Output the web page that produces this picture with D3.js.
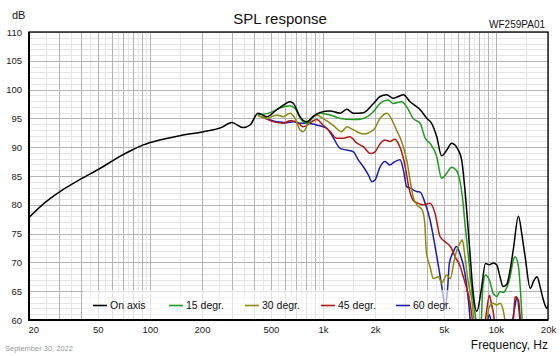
<!DOCTYPE html>
<html><head><meta charset="utf-8">
<script src="https://cdn.jsdelivr.net/npm/d3@7"></script>
<style>
html,body{margin:0;padding:0;background:#fff;}
svg{display:block;font-family:"Liberation Sans",Arial,sans-serif;}
</style></head>
<body><svg id="c" width="560" height="356"></svg>
<script>
// ---- data (frequency Hz, SPL dB) ----
const seriesNames = ["On axis","15 degr.","30 degr.","45 degr.","60 degr."];
const seriesColors = ["#000000","#1f9a1f","#8a8a10","#b01818","#1c1ca8"];
const onAxis = [[20,77.8],[25,80.5],[30.2,82.3],[40,84.5],[51.4,86.3],[67,88.4],[80,89.6],[91.6,90.4],[114,91.25],[149,92.0],[204,92.7],[260,93.45],[297,94.3],[346,93.4],[379,93.85],[422,95.9],[474,95.3],[541,96.5],[590,97.3],[646,97.9],[676,97.6],[737,95.3],[805,94.4],[882,95.4],[966,96.05],[1100,96.3],[1257,95.9],[1375,96.6],[1500,95.9],[1712,96.0],[1960,97.6],[2140,98.8],[2336,99.1],[2550,98.5],[2920,99.1],[3190,97.9],[3650,96.5],[3990,95.0],[4250,94.15],[4550,91.8],[4854,88.5],[5200,89.5],[5540,90.7],[6060,89.5],[6340,87.8],[6620,82.6],[7080,71.6],[7360,65.2],[7760,61.5],[8250,65.5],[8700,69.8],[9170,69.6],[9650,69.9],[10100,69.6],[10560,67.5],[11000,65.8],[11550,66.2],[12080,68.7],[12600,72.2],[13500,78.0],[14100,75.0],[14750,71.0],[15800,65.5],[16600,66.9],[17300,67.5],[18000,65.8],[18800,63.5],[19700,62.0],[20000,62.6]];
const deg15 = [[420,95.6],[495,96.0],[564,96.8],[646,97.2],[690,96.7],[753,94.7],[805,94.15],[882,95.3],[966,95.9],[1100,95.6],[1257,95.0],[1500,94.8],[1712,95.0],[1960,96.2],[2140,97.6],[2380,98.2],[2550,97.6],[2850,97.9],[3050,97.0],[3320,95.0],[3650,94.15],[3900,91.55],[4160,90.7],[4550,88.35],[4850,84.6],[5200,85.5],[5540,86.5],[5900,86.0],[6180,84.3],[6400,81.4],[6620,76.8],[6930,71.0],[7260,65.2],[7620,60.6],[7900,57],[8200,59],[8400,65.8],[8700,67.8],[9170,66.9],[9650,64.6],[10100,64.1],[10560,64.9],[11000,64.8],[11500,65.5],[12080,67.5],[12600,70.4],[12900,71.0],[13500,69.25],[13900,64.6],[14300,58]];
const deg30 = [[420,95.5],[474,95.0],[541,95.6],[590,95.3],[646,95.9],[690,95.0],[737,93.0],[770,92.7],[823,94.15],[920,95.6],[1000,95.0],[1140,93.85],[1280,92.7],[1375,93.55],[1500,93.0],[1710,92.3],[1960,93.0],[2140,95.0],[2340,95.9],[2510,94.7],[2660,93.0],[2850,91.0],[3050,87.8],[3190,84.3],[3320,81.4],[3500,80.0],[3750,79.1],[3880,76.8],[3960,71.85],[4160,69.25],[4350,67.2],[4660,67.5],[4850,66.4],[5200,67.8],[5440,67.2],[5800,71.0],[6180,73.3],[6400,73.9],[6620,71.0],[6930,66.4],[7260,63.5],[7600,58],[8500,57],[9170,62.3],[9650,62.9],[10100,62.6],[10560,62.9],[11000,61.8],[11500,58]];
const deg45 = [[440,95.3],[520,94.4],[590,94.15],[646,94.6],[705,94.4],[770,93.55],[860,94.4],[920,94.8],[1000,93.85],[1100,92.7],[1200,91.55],[1310,91.55],[1430,91.8],[1570,90.7],[1710,90.1],[1880,88.9],[2000,89.2],[2140,90.6],[2290,91.25],[2430,91.0],[2610,91.4],[2720,90.7],[2850,89.2],[2990,86.6],[3130,83.15],[3320,80.8],[3560,80.25],[3800,80.0],[4160,80.25],[4450,78.5],[4750,74.5],[5080,73.6],[5540,72.45],[5800,71.0],[6180,69.5],[6480,67.5],[6770,65.5],[7080,63.0],[7400,59],[7800,57],[8400,57],[8800,61.2],[9170,64.3],[9400,62.9],[9650,61.4],[10100,57],[12400,57],[12900,64.05],[13500,63.5],[13800,60.6],[14200,57]];
const deg60 = [[450,95.2],[541,94.4],[617,94.26],[676,94.4],[737,94.15],[805,94.15],[920,93.85],[1050,93.3],[1140,91.8],[1257,89.8],[1375,89.5],[1500,89.2],[1600,87.8],[1712,86.6],[1830,85.2],[1920,84.0],[2000,84.3],[2140,86.6],[2290,87.5],[2430,86.9],[2610,87.5],[2790,87.8],[2920,86.0],[3050,83.15],[3190,82.9],[3480,82.3],[3650,82.2],[3900,80.25],[4160,77.4],[4450,72.75],[4660,69.25],[4850,66.1],[5080,62.5],[5250,65.2],[5380,69.85],[5680,71.85],[5900,72.75],[6180,71.6],[6620,68.1],[6930,63.5],[7250,58],[8500,57],[9170,60.9],[9500,59],[12000,58],[12900,62.5],[13200,64.05],[13600,61.7],[13900,58]];
const seriesData = [onAxis,deg15,deg30,deg45,deg60];
const xTickValues = [20,50,100,200,500,1000,2000,5000,10000,20000];
const xTickLabels = ["20","50","100","200","500","1k","2k","5k","10k","20k"];
const yTickValues = [60,65,70,75,80,85,90,95,100,105,110];

// ---- layout ----
const L=29,R=548,T=32,B=320;
const svg=d3.select("#c");
const x=d3.scaleLog().domain([20,20000]).range([L,R]);
const y=d3.scaleLinear().domain([60,110]).range([B,T]);

// grid
const majorX=[],minorX=[];
for(let d=10; d<=10000; d*=10){
  for(let k=1;k<10;k++){
    const v=k*d; if(v>=20 && v<=20000) majorX.push(v);
    const m=(k+0.5)*d; if(m>20 && m<20000) minorX.push(m);
  }
}
const g=svg.append("g");
const minorY=d3.range(60,111,1).filter(v=>v%5!==0);
g.selectAll(".myl").data(minorY).join("line")
 .attr("x1",L).attr("x2",R).attr("y1",d=>Math.round(y(d))+0.5).attr("y2",d=>Math.round(y(d))+0.5)
 .attr("stroke","#e6e6e6").attr("stroke-width",1);
g.selectAll(".mxl").data(minorX).join("line")
 .attr("y1",T).attr("y2",B).attr("x1",d=>Math.round(x(d))+0.5).attr("x2",d=>Math.round(x(d))+0.5)
 .attr("stroke","#e6e6e6").attr("stroke-width",1);
g.selectAll(".Myl").data(yTickValues).join("line")
 .attr("x1",L).attr("x2",R).attr("y1",d=>Math.round(y(d))+0.5).attr("y2",d=>Math.round(y(d))+0.5)
 .attr("stroke","#b4b4b4").attr("stroke-width",1);
g.selectAll(".Mxl").data(majorX).join("line")
 .attr("y1",T).attr("y2",B).attr("x1",d=>Math.round(x(d))+0.5).attr("x2",d=>Math.round(x(d))+0.5)
 .attr("stroke","#b4b4b4").attr("stroke-width",1);

// curves
svg.append("defs").append("clipPath").attr("id","clip")
 .append("rect").attr("x",L).attr("y",T).attr("width",R-L).attr("height",B-T);
const line=d3.line().x(d=>x(d[0])).y(d=>y(d[1])).curve(d3.curveMonotoneX);
const cg=svg.append("g").attr("clip-path","url(#clip)");
for(let i=seriesData.length-1;i>=0;i--){
  cg.append("path").attr("d",line(seriesData[i])).attr("fill","none")
   .attr("stroke",seriesColors[i]).attr("stroke-width",1.5).attr("stroke-linejoin","round");
}

// legend
svg.append("rect").attr("x",83).attr("y",290).attr("width",380).attr("height",29)
 .attr("fill","#fff").attr("opacity",0.62);
const legX=[93,169,245,321,396];
seriesNames.forEach((n,i)=>{
  svg.append("line").attr("x1",legX[i]).attr("x2",legX[i]+14).attr("y1",305.5).attr("y2",305.5)
   .attr("stroke",seriesColors[i]).attr("stroke-width",1.6);
  svg.append("text").attr("x",legX[i]+17).attr("y",309).attr("font-size",10.5).attr("fill","#111").text(n);
});

// frame
svg.append("rect").attr("x",L).attr("y",T).attr("width",R-L).attr("height",B-T)
 .attr("fill","none").attr("stroke","#000").attr("stroke-width",1.3);
svg.append("line").attr("x1",L).attr("x2",L).attr("y1",T).attr("y2",B+1).attr("stroke","#000").attr("stroke-width",2);
svg.append("line").attr("x1",L-1).attr("x2",R).attr("y1",B).attr("y2",B).attr("stroke","#000").attr("stroke-width",2);

// axes labels
const ya=svg.append("g").attr("transform",`translate(${L-4},0)`)
 .call(d3.axisLeft(y).tickValues(yTickValues).tickSize(0).tickFormat(d3.format("d")));
ya.select(".domain").remove();
ya.selectAll("text").attr("font-size",9.5).attr("fill","#222").attr("font-family","Liberation Sans, Arial, sans-serif");
const xa=svg.append("g").attr("transform",`translate(0,${B+3})`)
 .call(d3.axisBottom(x).tickValues(xTickValues).tickSize(0).tickFormat((d,i)=>xTickLabels[i]));
xa.select(".domain").remove();
xa.selectAll("text").attr("font-size",9.5).attr("fill","#222").attr("font-family","Liberation Sans, Arial, sans-serif");
xa.selectAll("text").filter(d=>d===20).attr("text-anchor","start").attr("dx",-1);

svg.append("text").attr("x",280).attr("y",24).attr("text-anchor","middle").attr("font-size",15).attr("fill","#111").text("SPL response");
svg.append("text").attr("x",12).attr("y",19).attr("font-size",11).attr("fill","#111").text("dB");
svg.append("text").attr("x",545).attr("y",28).attr("text-anchor","end").attr("font-size",10).attr("fill","#111").text("WF259PA01");
svg.append("text").attr("x",548).attr("y",349).attr("text-anchor","end").attr("font-size",12).attr("fill","#111").text("Frequency, Hz");
svg.append("text").attr("x",5).attr("y",351).attr("font-size",7.5).attr("fill","#9a9a9a").text("September 30, 2022");
</script></body></html>
